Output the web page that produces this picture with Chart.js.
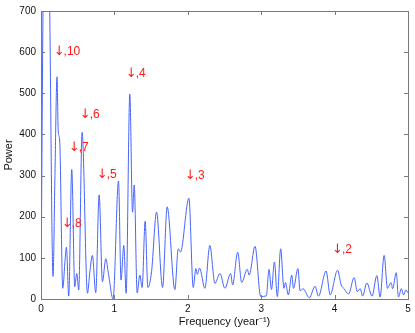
<!DOCTYPE html>
<html>
<head>
<meta charset="utf-8">
<script src="https://cdn.jsdelivr.net/npm/chart.js@4"></script>
<style>
  body { margin: 0; background: #fff; }
  canvas { display: block; }
</style>
</head>
<body>
<canvas id="periodogramme" width="415" height="333"></canvas>
<script>
// frequences (1/an) et puissance
let frequences = [
    0.00, 0.03, 0.07, 0.115, 0.164, 0.19, 0.218, 0.235, 0.255, 0.296,
    0.33, 0.346, 0.378, 0.419, 0.46, 0.487, 0.514, 0.56, 0.633, 0.665,
    0.70, 0.746, 0.792, 0.837, 0.883, 0.92, 0.982, 1.056, 1.09, 1.128,
    1.16, 1.21, 1.247, 1.27, 1.31, 1.347, 1.378, 1.419, 1.456, 1.506,
    1.574, 1.656, 1.719, 1.824, 1.87, 1.90, 2.015, 2.074, 2.11, 2.13,
    2.16, 2.233, 2.30, 2.37, 2.438, 2.506, 2.584, 2.61, 2.68, 2.734,
    2.81, 2.836, 2.916, 2.993, 3.07, 3.106, 3.14, 3.18, 3.22, 3.265,
    3.31, 3.33, 3.37, 3.416, 3.44, 3.50, 3.53, 3.57, 3.656, 3.734,
    3.78, 3.884, 3.94, 4.04, 4.09, 4.13, 4.19, 4.266, 4.31, 4.35,
    4.38, 4.44, 4.51, 4.576, 4.62, 4.675, 4.72, 4.77, 4.79, 4.84,
    4.87, 4.91, 4.94, 4.97, 5.00
];
let puissance = [
    0, 760, 1200, 760, 55, 300, 540, 408, 384, 26,
    100, 126, 7, 315, 30, 62, 22, 405, 14, 65,
    106, 15, 253, 42, 98, 60, 0, 287, 46, 130,
    14, 498, 211, 277, 15, 58, 28, 189, 28, 66,
    211, 28, 224, 23, 122, 114, 245, 28, 74, 60,
    75, 26, 130, 38, 62, 26, 62, 34, 114, 40,
    72, 58, 128, 6, 8, 72, 23, 90, 6, 122,
    26, 40, 10, 58, 26, 74, 20, 25, 3, 31,
    7, 68, 10, 70, 34, 25, 12, 52, 18, 25,
    7, 39, 7, 57, 5, 106, 26, 40, 25, 64,
    5, 25, 10, 22, 15
];

let ticksX = [0, 1, 2, 3, 4, 5];
let ticksY = [0, 100, 200, 300, 400, 500, 600, 700];

// annotations en rouge : numero et point d'ancrage (coin gauche, milieu)
let etiquettes = [",10", ",4", ",6", ",7", ",5", ",8", ",3", ",2"];
let etiqFreq = [0.173, 1.156, 0.528, 0.378, 0.76, 0.282, 1.96, 3.966];
let etiqPuis = [601, 548, 449, 367, 302, 183, 300, 121];

let police = "'Liberation Sans', Arial, Helvetica, sans-serif";

let pluginCadre = {
    id: 'cadre',
    afterDatasetsDraw(chart) {
        let ctx = chart.ctx;
        let a = chart.chartArea;
        let sx = chart.scales.x;
        let sy = chart.scales.y;
        ctx.save();
        ctx.strokeStyle = '#7a7a7a';
        ctx.lineWidth = 1;
        ctx.strokeRect(Math.round(a.left) + 0.5, Math.round(a.top) + 0.5,
            Math.round(a.right - a.left), Math.round(a.bottom - a.top));
        ctx.beginPath();
        ticksX.forEach(function (v) {
            let px = Math.round(sx.getPixelForValue(v)) + 0.5;
            ctx.moveTo(px, a.bottom); ctx.lineTo(px, a.bottom - 4);
            ctx.moveTo(px, a.top); ctx.lineTo(px, a.top + 4);
        });
        ticksY.forEach(function (v) {
            let py = Math.round(sy.getPixelForValue(v)) + 0.5;
            ctx.moveTo(a.left, py); ctx.lineTo(a.left + 4, py);
            ctx.moveTo(a.right, py); ctx.lineTo(a.right - 4, py);
        });
        ctx.stroke();

        ctx.fillStyle = '#ff1a1a';
        ctx.textAlign = 'left';
        ctx.textBaseline = 'middle';
        for (let i = 0; i < etiquettes.length; i++) {
            let px = sx.getPixelForValue(etiqFreq[i]);
            let py = sy.getPixelForValue(etiqPuis[i]);
            ctx.font = "13px 'DejaVu Sans', sans-serif";
            ctx.fillText("\u2193", px, py);
            let w = ctx.measureText("\u2193").width;
            ctx.font = "12px " + police;
            ctx.fillText(etiquettes[i], px + w - 1, py);
        }
        ctx.restore();
    }
};

let points = frequences.map(function (f, i) { return {x: f, y: puissance[i]}; });

let cvs = document.getElementById('periodogramme').getContext('2d');
let graphe = new Chart(cvs, {
    type: 'line',
    data: {
        datasets: [{
            label: "Puissance",
            data: points,
            borderColor: "rgb(70, 100, 255)",
            borderWidth: 1,
            pointRadius: 0,
            fill: false,
            cubicInterpolationMode: 'monotone'
        }]
    },
    options: {
        responsive: false,
        animation: false,
        devicePixelRatio: 1,
        layout: { padding: { top: 9, right: 7, left: 0, bottom: 0 } },
        plugins: { legend: { display: false }, tooltip: { enabled: false } },
        scales: {
            x: {
                type: 'linear',
                min: 0, max: 5,
                afterBuildTicks: function (s) { s.ticks = ticksX.map(function (v) { return {value: v}; }); },
                afterFit: function (s) { s.height = 34; },
                grid: { display: false, drawTicks: false },
                border: { display: false },
                ticks: { color: '#111', padding: 4, font: { size: 10, family: police } },
                title: {
                    display: true,
                    text: 'Frequency (year\u207B\u00B9)',
                    color: '#111',
                    padding: { top: 0, bottom: 4 },
                    font: { size: 11, family: police }
                }
            },
            y: {
                min: 0, max: 700,
                afterBuildTicks: function (s) { s.ticks = ticksY.map(function (v) { return {value: v}; }); },
                afterFit: function (s) { s.width = 41; },
                grid: { display: false, drawTicks: false },
                border: { display: false },
                ticks: { color: '#111', padding: 5, font: { size: 10, family: police } },
                title: {
                    display: true,
                    text: 'Power',
                    color: '#111',
                    padding: { top: 2, bottom: 0 },
                    font: { size: 11, family: police }
                }
            }
        }
    },
    plugins: [pluginCadre]
});
</script>
</body>
</html>
